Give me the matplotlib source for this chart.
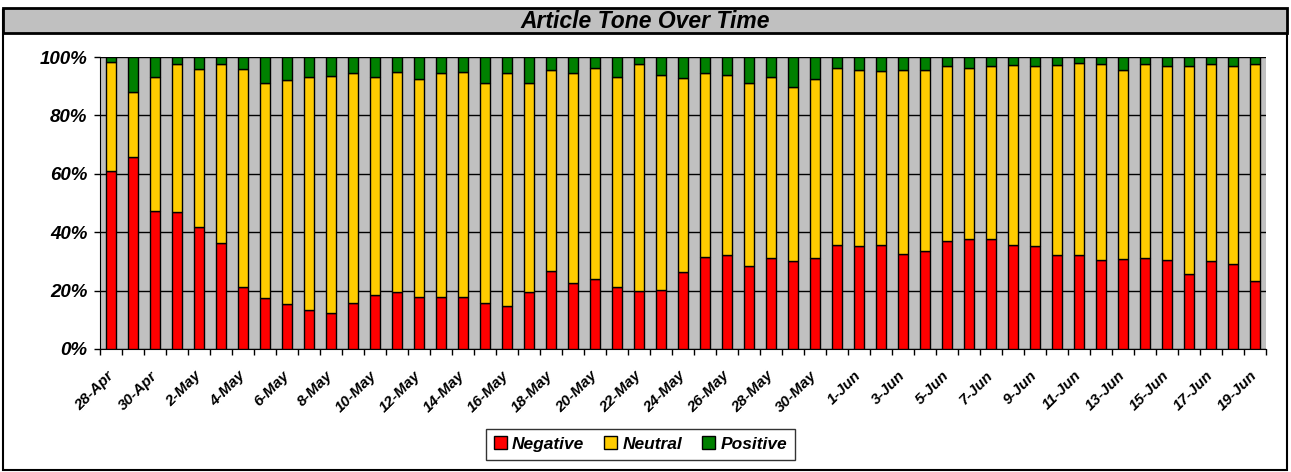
import matplotlib.pyplot as plt
from matplotlib.patches import Rectangle
from matplotlib.transforms import ScaledTranslation
import numpy as np

plt.rcParams['font.family'] = ['Liberation Sans', 'DejaVu Sans']

# one bar per day, 28-Apr .. 19-Jun
dates = (['28-Apr', '29-Apr', '30-Apr']
         + ['%d-May' % d for d in range(1, 32)]
         + ['%d-Jun' % d for d in range(1, 20)])

# share of articles (%)
negative = [61.0, 65.9, 47.3, 46.8, 41.8, 36.4, 21.2, 17.6, 15.4, 13.4,
            12.4, 15.8, 18.6, 19.6, 17.9, 17.7, 17.9, 15.9, 14.8, 19.6,
            26.8, 22.7, 24.1, 21.3, 20.0, 20.2, 26.5, 31.6, 32.2, 28.4,
            31.3, 30.3, 31.1, 35.8, 35.3, 35.8, 32.5, 33.6, 37.0, 37.6,
            37.6, 35.6, 35.4, 32.2, 32.2, 30.5, 30.8, 31.1, 30.5, 25.6,
            30.3, 29.1, 23.4]
neg_plus_neutral = [98.2, 87.9, 93.3, 97.5, 96.0, 97.8, 95.9, 91.0, 92.1, 93.3,
                    93.6, 94.4, 93.3, 95.0, 92.5, 94.4, 95.0, 91.3, 94.4, 91.3,
                    95.5, 94.4, 96.1, 93.3, 97.5, 94.0, 92.9, 94.4, 93.8, 91.2,
                    93.3, 89.8, 92.5, 96.1, 95.5, 95.2, 95.5, 95.5, 96.9, 96.3,
                    96.9, 97.3, 97.0, 97.3, 98.1, 97.6, 95.5, 97.8, 96.9, 96.9,
                    97.8, 96.9, 97.8]

neutral = np.array(neg_plus_neutral) - np.array(negative)
positive = 100 - np.array(neg_plus_neutral)

fig = plt.figure(figsize=(12.91, 4.72), dpi=100, facecolor='white')

# outer frame and title strip
fig.patches.append(Rectangle((0.002, 0.004), 0.995, 0.975, transform=fig.transFigure,
                             facecolor='none', edgecolor='black', lw=1.5, zorder=5))
fig.patches.append(Rectangle((0.002, 0.93), 0.995, 0.052, transform=fig.transFigure,
                             facecolor='#C0C0C0', edgecolor='black', lw=2, zorder=5))
fig.text(0.5, 0.955, 'Article Tone Over Time', ha='center', va='center',
         fontsize=16.5, fontweight='bold', fontstyle='italic', zorder=6)

ax = fig.add_axes([0.0775, 0.2606, 0.9031, 0.6184])
ax.set_facecolor('#C0C0C0')

x = np.arange(len(dates))
w = 0.46
ax.bar(x, negative, w, color='#FF0000', edgecolor='black', lw=1, label='Negative', zorder=3)
ax.bar(x, neutral, w, bottom=negative, color='#FFCC00', edgecolor='black', lw=1,
       label='Neutral', zorder=3)
ax.bar(x, positive, w, bottom=neg_plus_neutral, color='#008000', edgecolor='black', lw=1,
       label='Positive', zorder=3)

ax.set_xlim(-0.5, len(dates) - 0.5)
ax.set_ylim(0, 100)
ax.set_yticks(np.arange(0, 101, 20))
ax.set_yticklabels(['%d%%' % v for v in range(0, 101, 20)], fontsize=13.5,
                   fontweight='bold', fontstyle='italic')
ax.yaxis.grid(True, color='black', lw=1, zorder=1)
ax.set_axisbelow(True)
ax.tick_params(axis='y', length=4, width=1, pad=5)

ax.set_xticks(x[::2])
ax.set_xticklabels(dates[::2], rotation=45, ha='right', rotation_mode='anchor',
                   fontsize=11, fontweight='bold', fontstyle='italic')
ax.tick_params(axis='x', which='major', length=0, pad=14)
shift = ScaledTranslation(-5 / 100, 0, fig.dpi_scale_trans)
for lbl in ax.get_xticklabels():
    lbl.set_transform(lbl.get_transform() + shift)
ax.set_xticks(np.arange(-0.5, len(dates), 1), minor=True)
ax.tick_params(axis='x', which='minor', length=4, width=1)

for s in ['top', 'right']:
    ax.spines[s].set_visible(False)

leg = fig.legend(loc='lower center', bbox_to_anchor=(0.496, 0.008), ncol=3,
                 frameon=True, fancybox=False, edgecolor='black',
                 prop={'weight': 'bold', 'style': 'italic', 'size': 12.5},
                 handlelength=0.75, handleheight=0.75, handletextpad=0.3,
                 columnspacing=1.15, borderpad=0.45)
leg.get_frame().set_linewidth(1)

fig.savefig('out.png', dpi=100, facecolor='white')
